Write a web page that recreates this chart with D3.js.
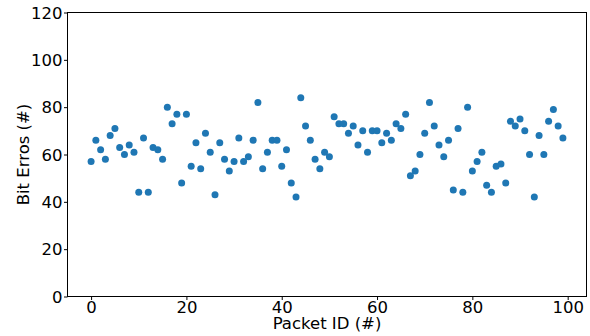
<!DOCTYPE html>
<html>
<head>
<meta charset="utf-8">
<script src="https://cdn.jsdelivr.net/npm/d3@7"></script>
<style>
  body { margin: 0; background: #fff; }
  svg text { font-family: "DejaVu Sans", sans-serif; fill: #000; }
</style>
</head>
<body>
<div id="chart"></div>
<script>
// bit errors per packet
packetIds = d3.range(0, 100)
bitErrors = [
  57, 66, 62, 58, 68, 71, 63, 60, 64, 61,
  44, 67, 44, 63, 62, 58, 80, 73, 77, 48,
  77, 55, 65, 54, 69, 61, 43, 65, 58, 53,
  57, 67, 57, 59, 66, 82, 54, 61, 66, 66,
  55, 62, 48, 42, 84, 72, 66, 58, 54, 61,
  59, 76, 73, 73, 69, 72, 64, 70, 61, 70,
  70, 65, 69, 66, 73, 71, 77, 51, 53, 60,
  69, 82, 72, 64, 59, 66, 45, 71, 44, 80,
  53, 57, 61, 47, 44, 55, 56, 48, 74, 72,
  75, 70, 60, 42, 68, 60, 74, 79, 72, 67
]
xTicks = [0, 20, 40, 60, 80, 100]
yTicks = [0, 20, 40, 60, 80, 100, 120]

margin = {top: 12.5, right: 3.5, bottom: 39.5, left: 67.5},
  width = 590 - margin.left - margin.right,
  height = 336 - margin.top - margin.bottom;

svg = d3.select("#chart")
  .append("svg")
  .attr("width", 590)
  .attr("height", 336)
  .append("g")
  .attr("transform", `translate(${margin.left}, ${margin.top})`);

// matplotlib-style 5% padding on x
x = d3.scaleLinear()
  .domain([-4.95, 103.95])
  .range([0, width]);

y = d3.scaleLinear()
  .domain([0, 120])
  .range([height, 0]);

xAxis = svg.append("g")
  .attr("transform", `translate(0, ${height})`)
  .call(d3.axisBottom(x).tickValues(xTicks).tickSize(3.5).tickPadding(1))
xAxis.attr("font-family", "DejaVu Sans").attr("font-size", null)
xAxis.select(".domain").remove()
xAxis.selectAll("text").style("font-size", "16.5px").attr("dy", "0.7em")
xAxis.selectAll("line").attr("stroke-width", 1)

yAxis = svg.append("g")
  .call(d3.axisLeft(y).tickValues(yTicks).tickSize(3.5).tickPadding(1.5))
yAxis.attr("font-family", "DejaVu Sans").attr("font-size", null)
yAxis.select(".domain").remove()
yAxis.selectAll("text").style("font-size", "16.5px").attr("dy", "0.35em")
yAxis.selectAll("line").attr("stroke-width", 1)

// frame
svg.append("rect")
  .attr("x", 0)
  .attr("y", 0)
  .attr("width", width)
  .attr("height", height)
  .attr("fill", "none")
  .attr("stroke", "#000")
  .attr("stroke-width", 1)

// points
svg.selectAll("circle")
  .data(packetIds)
  .join("circle")
    .attr("cx", d => x(d))
    .attr("cy", d => y(bitErrors[d]))
    .attr("r", 3.5)
    .attr("fill", "#1f77b4")

// axis labels
svg.append("text")
  .attr("x", width / 2)
  .attr("y", height + 32.5)
  .attr("text-anchor", "middle")
  .style("font-size", "16.5px")
  .text("Packet ID (#)")

svg.append("text")
  .attr("transform", `translate(${-margin.left + 29}, ${height / 2}) rotate(-90)`)
  .attr("text-anchor", "middle")
  .style("font-size", "16.5px")
  .text("Bit Erros (#)")
</script>
</body>
</html>
